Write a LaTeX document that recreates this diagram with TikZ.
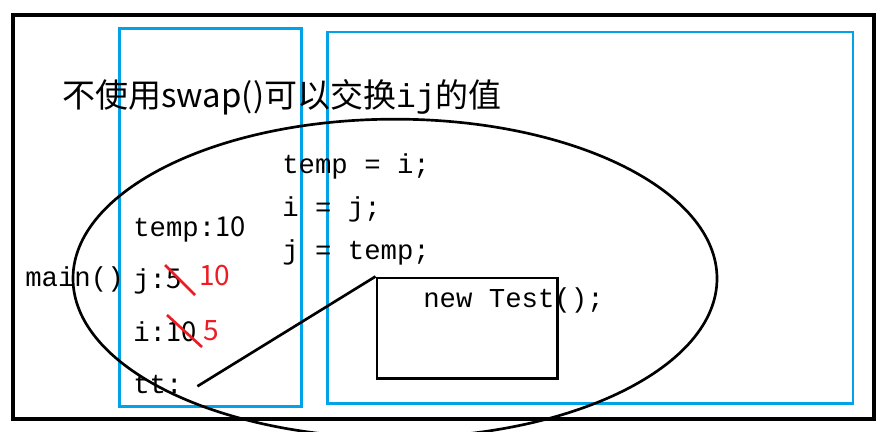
\documentclass[tikz,border=0pt]{standalone}
\usepackage{fontspec}
\newfontfamily\cjkfont{Noto Sans CJK SC}
\newfontfamily\codefont{Liberation Mono}
\usetikzlibrary{positioning}
\definecolor{paintblue}{HTML}{00A2E8}
\definecolor{paintred}{HTML}{ED1C24}

\begin{document}
\begin{tikzpicture}[x=0.75pt, y=-0.75pt,
    code/.style={font=\codefont\fontsize{20.5}{24}\selectfont, inner sep=0pt, text height=15pt, text depth=4pt, anchor=base west},
    num/.style={font=\cjkfont\fontsize{21}{24}\selectfont, text=paintred, inner sep=0pt, anchor=base west},
    frame/.style={draw=paintblue, line width=2pt},
    objbox/.style={draw, line width=2.2pt, minimum width=135.5pt, minimum height=75.5pt, inner sep=0pt},
    strike/.style={draw=paintred, line width=2pt},
    link/.style={line width=2pt}]
    \useasboundingbox (0,0) rectangle (889,432);
    \clip (0,0) rectangle (889,432);

    \draw[line width=3.4pt] (13,15) rectangle (874,419);
    \draw[frame] (119.5,28.7) rectangle (301.3,406.7);
    \draw[frame] (327.5,32) rectangle (853,403.3);
    \draw[line width=2pt] (395,278.5) ellipse [x radius=241.5pt, y radius=119.5pt];

    \node (title) [anchor=base west, inner sep=0pt, font=\cjkfont\fontsize{24.75}{28}\selectfont] at (62,107) {不使用swap()可以交换{\codefont ij}的值};

    \node (main) [code] at (25,286) {main()};
    \node (tv) [code] at (133,236) {temp:{\cjkfont 10}};
    \node (jv) [code, below=39.4pt of tv.base west, anchor=base west] {j:{\cjkfont 5}};
    \node (iv) [code, below=39.4pt of jv.base west, anchor=base west] {i:{\cjkfont 10}};
    \node (tt) [code, below=39.4pt of iv.base west, anchor=base west] {tt:};

    \node (s1) [code] at (282,173) {temp = i;};
    \node (s2) [code, below=32.25pt of s1.base west, anchor=base west] {i = j;};
    \node (s3) [code, below=32.25pt of s2.base west, anchor=base west] {j = temp;};

    \node (obj) [objbox, anchor=north west] at (375.5,276.5) {};
    \node (newt) [code] at (423,307) {new Test();};

    \node (jnew) [num] at (199,285) {10};
    \node (inew) [num] at (203,340) {5};
    \draw[strike] (165,265) -- (195,295);
    \draw[strike] (167,315) -- (202,347);

    \coordinate (ttr) at ([xshift=11pt]tt.east);
    \draw[link] (ttr) -- (obj.north west);
\end{tikzpicture}
\end{document}
